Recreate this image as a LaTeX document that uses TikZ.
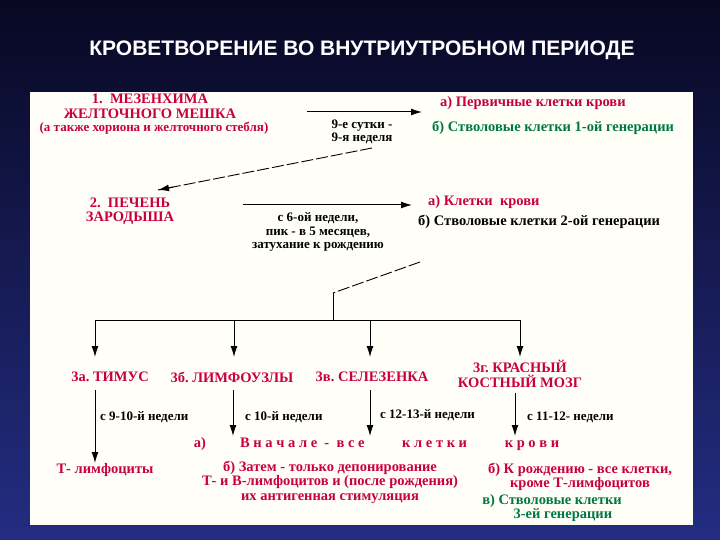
\documentclass[tikz,border=0pt]{standalone}
\usepackage{fontspec}
\usetikzlibrary{calc,arrows.meta}
\setmainfont{Liberation Serif}
\newfontfamily\titlefont{Liberation Sans}
\definecolor{rd}{RGB}{200,0,60}
\definecolor{gr}{RGB}{0,120,70}
\definecolor{bgtop}{RGB}{8,8,35}
\definecolor{bgbot}{RGB}{35,45,130}
\begin{document}
\begin{tikzpicture}[x=1pt,y=-1pt,
  txt/.style={font=\bfseries\fontsize{14.5}{14.5}\selectfont,inner sep=0pt,align=center},
  sm/.style={font=\bfseries\fontsize{13}{13.5}\selectfont},
  red/.style={txt,text=rd}, grn/.style={txt,text=gr}, blk/.style={txt,text=black},
  arr/.style={-{Latex[length=11pt,width=7pt]},line width=1pt},
  dsh/.style={line width=0.9pt,dash pattern=on 12pt off 3pt}]
\useasboundingbox (0,0) rectangle (720,540);
\shade[top color=bgtop,bottom color=bgbot] (0,0) rectangle (720,540);
\fill[white!97!yellow] (30,92) rectangle (693,525);
\node[text=white,font=\titlefont\bfseries\fontsize{21}{24}\selectfont] (title) at (362,50) {КРОВЕТВОРЕНИЕ ВО ВНУТРИУТРОБНОМ ПЕРИОДЕ};
% stage 1
\node[red] (m1) at (150,99) {1.\ \ МЕЗЕНХИМА};
\node[red] (m2) at (150,114) {ЖЕЛТОЧНОГО МЕШКА};
\node[red,font=\bfseries\fontsize{13}{13}\selectfont] (m3) at (154,128) {(а также хориона и желточного стебля)};
\coordinate (a1s) at (307,112); \coordinate (a1e) at (422,112);
\draw[arr] (a1s) -- (a1e);
\node[blk,sm] (l1) at (362,132) {9-е сутки -\\9-я неделя};
\node[red,anchor=west] (p1) at (440,103) {а) Первичные клетки крови};
\node[grn,anchor=west] (p2) at (432,128) {б) Стволовые клетки 1-ой генерации};
% dashed to liver
\coordinate (d1s) at (372,148); \coordinate (d1e) at (158,190);
\draw[dsh] (d1s) -- (d1e);
\draw[arr] ($(d1s)!0.93!(d1e)$) -- (d1e);
% stage 2
\node[red] (p3) at (130,211) {2.\ \ ПЕЧЕНЬ\\ЗАРОДЫША};
\coordinate (a2s) at (243,205); \coordinate (a2e) at (412,205);
\draw[arr] (a2s) -- (a2e);
\node[blk,sm] (l2) at (318,232) {с 6-ой недели,\\пик - в 5 месяцев,\\затухание к рождению};
\node[red,anchor=west] (k1) at (428,202) {а) Клетки\ \ крови};
\node[blk,anchor=west] (k2) at (418,222) {б) Стволовые клетки 2-ой генерации};
% branching
\coordinate (d2s) at (420,262); \coordinate (d2e) at (333,293);
\draw[dsh] (d2s) -- (d2e);
\coordinate (bus) at (333,320);
\draw[line width=1pt] (d2e) -- (bus);
\draw[line width=1pt] (95,320) -- (520,320);
\foreach \x in {95,234,370,520} \draw[arr] (\x,320) -- (\x,357);
% organs
\node[red] (o1) at (110,377) {3а.\ ТИМУС};
\node[red] (o2) at (232,377) {3б.\ ЛИМФОУЗЛЫ};
\node[red] (o3) at (372,377) {3в.\ СЕЛЕЗЕНКА};
\node[red] (o4) at (520,374) {3г.\ КРАСНЫЙ\\КОСТНЫЙ МОЗГ};
\draw[arr] (95,390) -- (95,463);
\draw[arr] (233,390) -- (233,436);
\draw[arr] (370,390) -- (370,436);
\draw[arr] (515,393) -- (515,436);
\node[blk,sm,anchor=west] (w1) at (100,417) {с 9-10-й недели};
\node[blk,sm,anchor=west] (w2) at (245,417) {с 10-й недели};
\node[blk,sm,anchor=west] (w3) at (380,415) {с 12-13-й недели};
\node[blk,sm,anchor=west] (w4) at (527,417) {с 11-12- недели};
% results
\node[red] (ra) at (200,444) {а)};
\node[red,anchor=west] (rv) at (240,444) {В\ н\ а\ ч\ а\ л\ е\ \ -\ \ в\ с\ е\hspace{2.6em}к\ л\ е\ т\ к\ и\hspace{2.6em}к\ р\ о\ в\ и};
\node[red] (t) at (105,470) {Т- лимфоциты};
\node[red] (rb) at (330,482) {б) Затем - только депонирование\\Т- и В-лимфоцитов и (после рождения)\\их антигенная стимуляция};
\node[red] (rk) at (580,477) {б) К рождению - все клетки,\\кроме Т-лимфоцитов};
\node[grn] (rs) at (552,508) {в) Стволовые клетки\\\hspace{1.5em}3-ей генерации};
\end{tikzpicture}
\end{document}
